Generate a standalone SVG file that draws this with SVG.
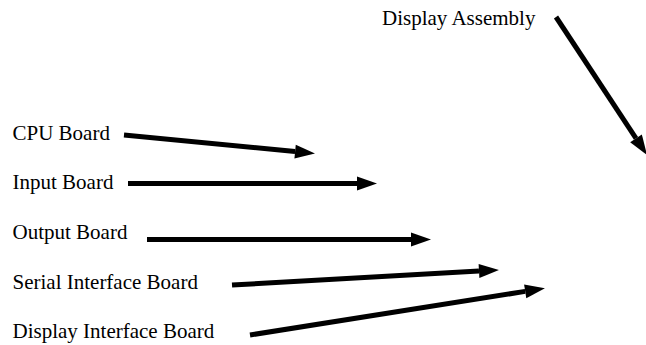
<svg xmlns="http://www.w3.org/2000/svg" width="646" height="345" viewBox="0 0 646 345">
<style>
text{font-family:"Liberation Serif","Times New Roman",serif;font-size:21px;fill:#000}
.c{stroke:#000;stroke-width:5;fill:none}
</style>
<defs>
<marker id="ah" markerUnits="userSpaceOnUse" markerWidth="22" markerHeight="16" refX="0" refY="7" orient="auto" overflow="visible">
<path d="M0,0 L20,7 L0,14 z" fill="#000"/>
</marker>
</defs>
<rect width="646" height="345" fill="#fff"/>
<g id="n-display-assembly"><text x="382" y="25">Display Assembly</text></g>
<g id="n-cpu"><text x="12.5" y="140">CPU Board</text></g>
<g id="n-input"><text x="12.5" y="189">Input Board</text></g>
<g id="n-output"><text x="12.5" y="239">Output Board</text></g>
<g id="n-serial"><text x="12.5" y="289">Serial Interface Board</text></g>
<g id="n-display-interface"><text x="12.5" y="338">Display Interface Board</text></g>
<g id="connectors">
<line class="c" x1="124" y1="135" x2="295.1" y2="151.6" marker-end="url(#ah)"/>
<line class="c" x1="128" y1="183.5" x2="357" y2="183.5" marker-end="url(#ah)"/>
<line class="c" x1="147" y1="239.5" x2="411" y2="239.5" marker-end="url(#ah)"/>
<line class="c" x1="232" y1="285" x2="479" y2="271.1" marker-end="url(#ah)"/>
<line class="c" x1="250" y1="335" x2="525.2" y2="291.4" marker-end="url(#ah)"/>
<line class="c" x1="556" y1="17" x2="636" y2="138.3" marker-end="url(#ah)"/>
</g>
</svg>
